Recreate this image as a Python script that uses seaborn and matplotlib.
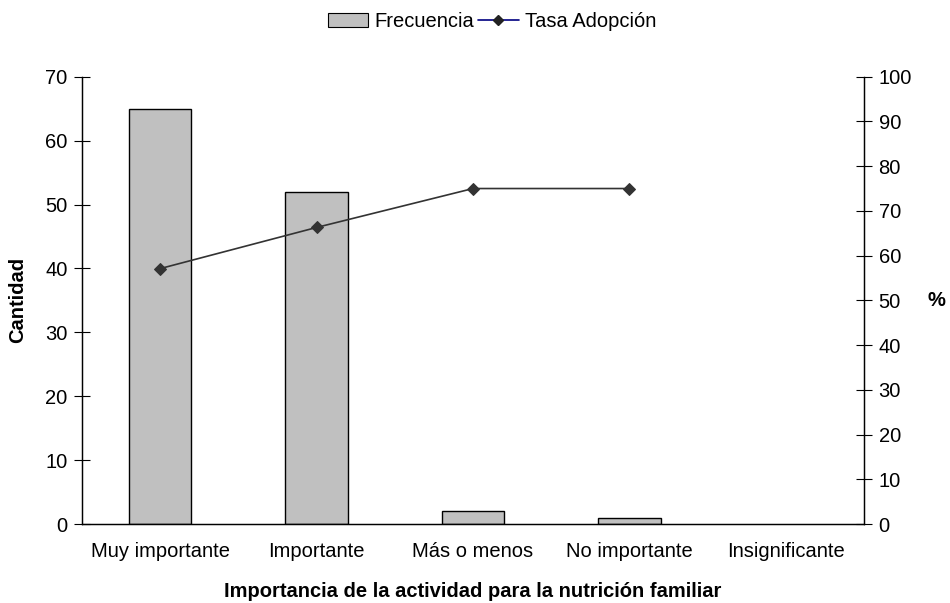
import matplotlib
matplotlib.use("Agg")
import matplotlib.pyplot as plt
import seaborn as sns
import pandas as pd
from matplotlib.patches import Patch
from matplotlib.lines import Line2D

categories = ["Muy importante", "Importante", "Más o menos", "No importante", "Insignificante"]
frecuencia = [65, 52, 2, 1, 0]
tasa_adopcion = [57.1, 66.3, 75.0, 75.0]

sns.set_theme(style="white")
plt.rcParams['font.family'] = ['Liberation Sans', 'DejaVu Sans']
plt.rcParams['text.color'] = 'black'
plt.rcParams['axes.labelcolor'] = 'black'

FS = 14.5

fig = plt.figure(figsize=(9.5, 6.03), dpi=100)
ax = fig.add_axes([0.0863, 0.131, 0.8232, 0.7418])

df = pd.DataFrame({"cat": categories, "freq": frecuencia})
sns.barplot(data=df, x="cat", y="freq", order=categories, color="#C0C0C0",
            edgecolor="black", linewidth=1.0, width=0.40, saturation=1, ax=ax)
for p in ax.patches:
    if p.get_height() == 0:
        p.set_visible(False)

ax.set_xlim(-0.5, 4.5)
ax.set_ylim(0, 70)
ax.set_yticks(range(0, 71, 10))
ax.tick_params(axis="y", direction="inout", length=11, width=0.8, labelsize=FS, colors="black", pad=5)
ax.set_xticks(range(len(categories)))
ax.set_xticklabels(categories, fontsize=FS)
ax.set_xticks([i - 0.5 for i in range(len(categories) + 1)], minor=True)
ax.tick_params(axis="x", which="major", length=0, pad=13, labelsize=FS, colors="black")
ax.tick_params(axis="x", which="minor", direction="inout", length=11, width=0.8, colors="black")
ax.set_xlabel("Importancia de la actividad para la nutrición familiar", fontsize=FS,
              fontweight="bold", labelpad=15)
ax.set_ylabel("Cantidad", fontsize=FS, fontweight="bold", va="center", ha="center")
ax.yaxis.set_label_coords(-0.082, 0.5)

ax2 = ax.twinx()
sns.lineplot(x=list(range(len(tasa_adopcion))), y=tasa_adopcion, ax=ax2, color="#333333",
             linewidth=1.2, marker="D", markersize=6, markeredgecolor="#333333",
             markerfacecolor="#333333")
ax2.set_ylim(0, 100)
ax2.set_yticks(range(0, 101, 10))
ax2.tick_params(axis="y", direction="inout", length=11, width=0.8, labelsize=FS, colors="black", pad=5)
ax2.set_ylabel("%", fontsize=FS, fontweight="bold", rotation=0, va="center", ha="center")
ax2.yaxis.set_label_coords(1.093, 0.5)
ax2.set_xlim(-0.5, 4.5)

for a in (ax, ax2):
    for s in ("left", "right", "bottom"):
        a.spines[s].set_visible(True)
        a.spines[s].set_color("black")
        a.spines[s].set_linewidth(0.9)
    a.spines["top"].set_visible(False)
    a.grid(False)

handles = [Patch(facecolor="#C0C0C0", edgecolor="black", linewidth=0.8),
           Line2D([0], [0], color="#000080", linewidth=1.2, marker="D", markersize=5,
                  markerfacecolor="#222222", markeredgecolor="#222222")]
fig.legend(handles, ["Frecuencia", "Tasa Adopción"], loc="upper center",
           bbox_to_anchor=(0.518, 1.0), ncol=2, frameon=False, fontsize=FS,
           handlelength=2.0, handletextpad=0.3, columnspacing=0.2, borderaxespad=0.2)

fig.savefig("out.png", dpi=100)
